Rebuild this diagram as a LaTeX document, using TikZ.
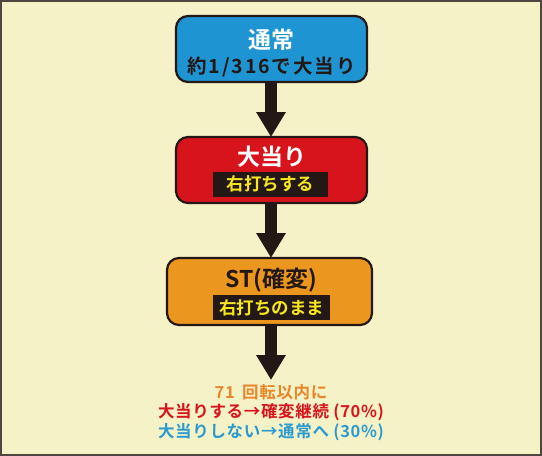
\documentclass[tikz,border=0pt]{standalone}
\usepackage{fontspec}
\newfontfamily\jp{Noto Sans CJK JP Bold}
\newfontfamily\jpw[LetterSpace=10]{Noto Sans CJK JP Bold}
\newfontfamily\jpn[LetterSpace=4]{Noto Sans CJK JP Bold}
\usetikzlibrary{arrows.meta}
\definecolor{bg}{RGB}{245,242,200}
\definecolor{frame}{RGB}{80,70,65}
\definecolor{ink}{RGB}{35,24,21}
\definecolor{bblue}{RGB}{30,148,210}
\definecolor{bred}{RGB}{215,20,28}
\definecolor{borange}{RGB}{235,150,30}
\definecolor{lyellow}{RGB}{245,230,30}
\definecolor{torange}{RGB}{232,134,42}
\definecolor{tred}{RGB}{215,20,28}
\definecolor{tblue}{RGB}{42,155,208}
\tikzset{
  stepbox/.style={draw=ink, line width=2.2pt, rounded corners=12pt},
  bigtxt/.style={font=\jp\fontsize{23}{26}\selectfont},
  midtxt/.style={font=\jpw\fontsize{19.5}{22}\selectfont},
  lbl/.style={fill=ink, text=lyellow, font=\jp\fontsize{17.5}{20}\selectfont, inner sep=0pt, minimum height=25pt},
  fatarrow/.style={ink, line width=12pt, -{Triangle[width=28pt,length=25pt]}, shorten >=0pt},
  note/.style={font=\jpn\fontsize{16.5}{19}\selectfont, inner sep=0pt}
}
\begin{document}
\begin{tikzpicture}[x=1pt,y=-1pt]
\useasboundingbox (0,0) rectangle (542,456);
\fill[bg] (0,0) rectangle (542,456);
\draw[frame, line width=1.8pt] (0.9,0.9) rectangle (541.1,455.1);
% box 1
\draw[stepbox, fill=bblue] (176,16) rectangle (367,82);
\node[bigtxt, text=white] (t1) at (271.5,40) {通常};
\node[midtxt, text=ink] (t1b) at (271.5,67) {約1/316で大当り};
\coordinate (b1) at (271,82);
% box 2
\draw[stepbox, fill=bred] (176,137) rectangle (367,203);
\node[bigtxt, text=white] (t2) at (271.5,157) {大当り};
\node[lbl, minimum width=115pt] (l2) at (270.5,184) {右打ちする};
\coordinate (b2t) at (271,137);
\coordinate (b2) at (271,203);
% box 3
\draw[stepbox, fill=borange] (167,258) rectangle (372,325);
\node[bigtxt, text=ink] (t3) at (271,280) {ST(確変)};
\node[lbl, minimum width=117pt] (l3) at (271.5,307.5) {右打ちのまま};
\coordinate (b3t) at (271,258);
\coordinate (b3) at (271,325);
\coordinate (end) at (271,380);
% arrows
\draw[fatarrow] (b1) -- (b2t);
\draw[fatarrow] (b2) -- (b3t);
\draw[fatarrow] (b3) -- (end);
% notes
\node[note, text=torange] (n1) at (271,392) {71\hspace{3pt} 回転以内に};
\node[note, text=tred] (n2) at (271,412) {大当りする→確変継続 (70\%)};
\node[note, text=tblue] (n3) at (271,432) {大当りしない→通常へ (30\%)};
\end{tikzpicture}
\end{document}
